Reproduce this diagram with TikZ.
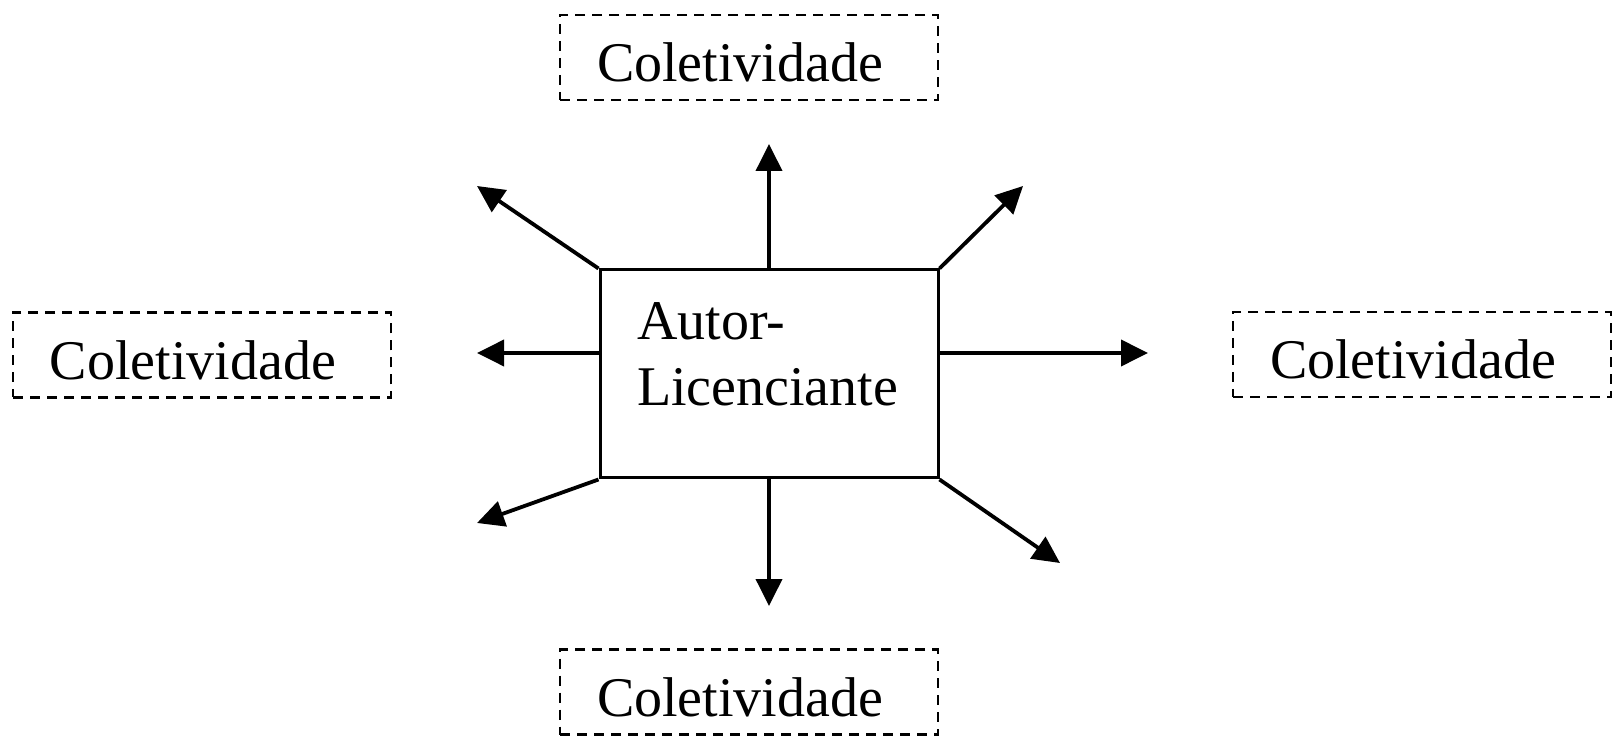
\documentclass[tikz,border=0pt]{standalone}
\usepackage{fontspec}
\setmainfont{Liberation Serif}
\usetikzlibrary{arrows.meta}
\tikzset{
    % A plain solid head for every spoke
    >={Triangle[length=6.75pt,width=6.5pt]},
%
    % The licensor box in the middle
    licensor box/.style={
        draw, line width=0.75pt, inner xsep=9.25pt, inner ysep=0pt,
        text width=66pt, align=left},
%
    % Dashed frame round each group of users
    group box/.style={
        draw, line width=0.65pt, dash pattern=on 2.5pt off 1.75pt,
        inner xsep=9.25pt, inner ysep=0pt, text width=76pt, align=left},
%
    % The spokes themselves
    spoke/.style={->, line width=0.95pt}}

\begin{document}
\begin{tikzpicture}[x=0.25pt, y=-0.25pt, font=\fontsize{14pt}{16.5pt}\selectfont]

% one unit is one pixel of the sketch, y running down

\useasboundingbox (0,0) rectangle (1616,737);

\node [licensor box] (author) at (769,374)
    {\rule{0pt}{17.5pt}Autor-\\
     Licenciante\rule[-18pt]{0pt}{0pt}};

\node [group box] (group n) at (749,57.5)
    {\rule[-4.5pt]{0pt}{21.25pt}Coletividade};
\node [group box] (group s) at (749,692)
    {\rule[-4.5pt]{0pt}{21.25pt}Coletividade};
\node [group box] (group w) at (202,355)
    {\rule[-4.5pt]{0pt}{21.25pt}Coletividade};
\node [group box] (group e) at (1422,354.5)
    {\rule[-4.5pt]{0pt}{21.25pt}Coletividade};

% free ends of the spokes
\coordinate (tip n) at (769,144);
\coordinate (tip s) at (769,606);
\coordinate (tip w) at (477,353);
\coordinate (tip e) at (1148,353);
\coordinate (tip nw) at (477,186);
\coordinate (tip ne) at (1023,186);
\coordinate (tip sw) at (477,523);
\coordinate (tip se) at (1060,563);

\draw [spoke] (author.north) -- (tip n);
\draw [spoke] (author.south) -- (tip s);
\draw [spoke] (author.west |- tip w) -- (tip w);
\draw [spoke] (author.east |- tip e) -- (tip e);
\draw [spoke] (author.north west) -- (tip nw);
\draw [spoke] (author.north east) -- (tip ne);
\draw [spoke] (author.south west) -- (tip sw);
\draw [spoke] (author.south east) -- (tip se);

\end{tikzpicture}
\end{document}
